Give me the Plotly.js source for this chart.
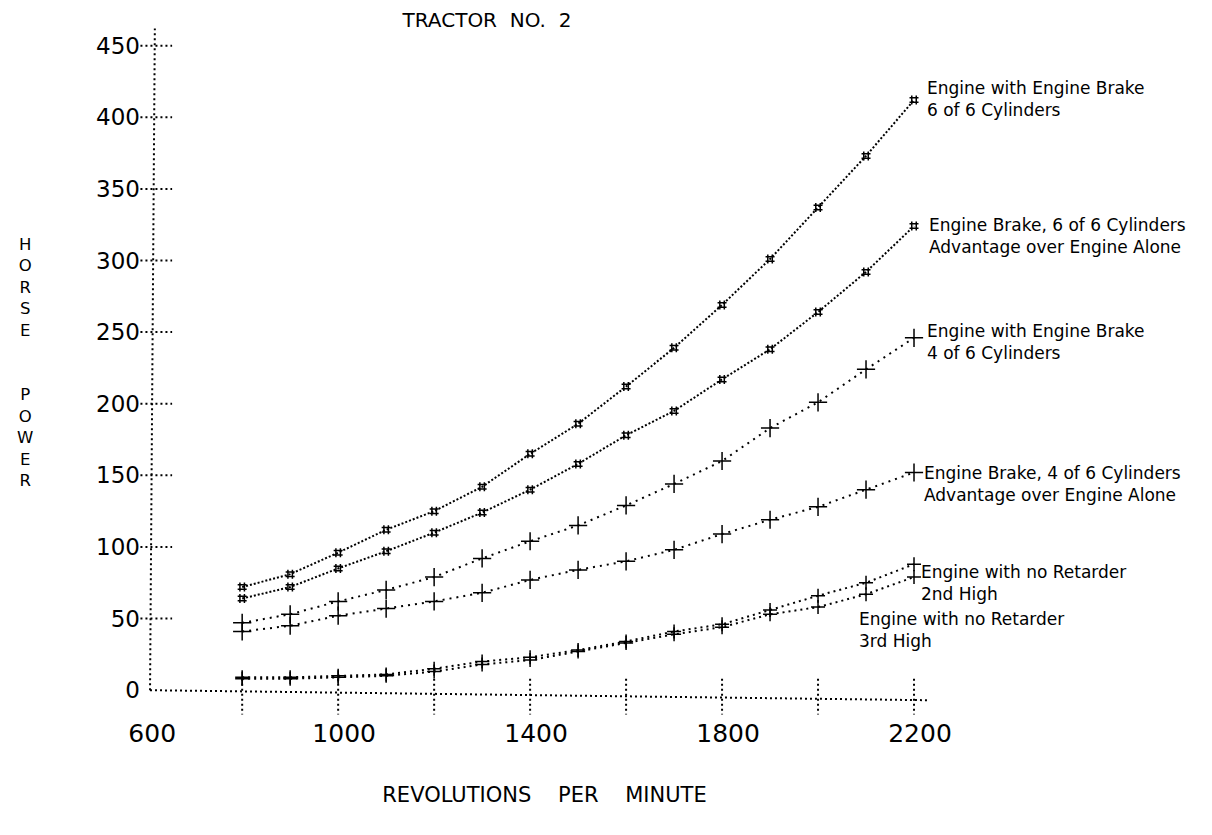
<!DOCTYPE html>
<html>
<head>
<meta charset="utf-8">
<script src="https://cdn.plot.ly/plotly-3.0.1.min.js"></script>
<style>html,body{margin:0;padding:0;background:#fff;}#chart{width:1212px;height:835px;}</style>
</head>
<body>
<div id="chart"></div>
<script>
// ---- data ----
const rpm = [800, 900, 1000, 1100, 1200, 1300, 1400, 1500, 1600, 1700, 1800, 1900, 2000, 2100, 2200];
const brake6of6 = [72, 81, 96, 112, 125, 142, 165, 186, 212, 239, 269, 301, 337, 373, 412];
const advantage6of6 = [64, 72, 85, 97, 110, 124, 140, 158, 178, 195, 217, 238, 264, 292, 324];
const brake4of6 = [47, 53, 62, 70, 79, 92, 104, 115, 129, 144, 160, 183, 201, 224, 246];
const advantage4of6 = [41, 45, 52, 57, 62, 68, 77, 84, 90, 98, 109, 119, 128, 140, 152];
const noRetarder2nd = [9, 9, 10, 11, 15, 20, 23, 28, 34, 41, 46, 56, 66, 75, 88];
const noRetarder3rd = [8, 8, 9, 10, 13, 18, 21, 27, 33, 39, 44, 53, 58, 67, 79];

const xTickLabels = ['600', '1000', '1400', '1800', '2200'];
const xTickValues = [600, 1000, 1400, 1800, 2200];
const xTickMarks = [800, 1000, 1200, 1400, 1600, 1800, 2000, 2200];
const yTickValues = [0, 50, 100, 150, 200, 250, 300, 350, 400, 450];

const seriesLabels = [
  'Engine with Engine Brake<br>6 of 6 Cylinders',
  'Engine Brake, 6 of 6 Cylinders<br>Advantage over Engine Alone',
  'Engine with Engine Brake<br>4 of 6 Cylinders',
  'Engine Brake, 4 of 6 Cylinders<br>Advantage over Engine Alone',
  'Engine with no Retarder<br>2nd High',
  'Engine with no Retarder<br>3rd High'
];
const titleText = 'TRACTOR\u00A0 NO.\u00A0 2';
const xTitleText = 'REVOLUTIONS\u00A0\u00A0\u00A0 PER\u00A0\u00A0\u00A0 MINUTE';
const yTitleText = 'H<br>O<br>R<br>S<br>E<br> <br> <br>P<br>O<br>W<br>E<br>R';

// ---- styling / layout ----
const FONT = 'DejaVu Sans, Liberation Sans, sans-serif';
const W = 1212, H = 835;
const M = {l: 127, r: 250, t: 17, b: 109};
const plotW = W - M.l - M.r, plotH = H - M.t - M.b;
const pxToPaperX = px => (px - M.l) / plotW;
const pxToPaperY = py => 1 - (py - M.t) / plotH;

function series(y, name, symbol, size, dash) {
  return {
    x: rpm, y: y, name: name, type: 'scatter', mode: 'lines+markers',
    line: {color: '#000', width: 2, dash: dash},
    marker: {symbol: symbol, size: size, color: '#000', line: {color: '#000', width: 1.5}},
    cliponaxis: false, hoverinfo: 'x+y'
  };
}

const traces = [
  series(brake6of6, 'Engine with Engine Brake 6 of 6', 'hash-open', 9, '2px,2px'),
  series(advantage6of6, 'Advantage 6 of 6', 'hash-open', 9, '2px,2px'),
  series(brake4of6, 'Engine with Engine Brake 4 of 6', 'cross-thin-open', 13, '2px,5px'),
  series(advantage4of6, 'Advantage 4 of 6', 'cross-thin-open', 13, '2px,5px'),
  series(noRetarder2nd, 'No Retarder 2nd High', 'cross-thin-open', 10, '2px,4px'),
  series(noRetarder3rd, 'No Retarder 3rd High', 'cross-thin-open', 10, '2px,4px')
];

const dotLine = {color: '#000', width: 2, dash: '2px,3px'};
const shapes = [];
// y axis line and x axis line (dotted as in the original)
shapes.push({type: 'line', xref: 'x', yref: 'y', x0: 608, y0: 0, x1: 618, y1: 462, line: dotLine});
shapes.push({type: 'line', xref: 'x', yref: 'y', x0: 608, y0: 0, x1: 2230, y1: -7, line: dotLine});
yTickValues.filter(v => v > 0).forEach(v => {
  shapes.push({type: 'line', xref: 'x', yref: 'y', x0: 588, y0: v, x1: 654, y1: v, line: dotLine});
});
xTickMarks.forEach(v => {
  shapes.push({type: 'line', xref: 'x', yref: 'y', x0: v, y0: 8, x1: v, y1: -17, line: dotLine});
});

// series label positions (anchor rpm, hp) beside curve ends
const labelX = [2223, 2227, 2223, 2216, 2210, 2081];
const labelY = [413, 317, 243, 144, 75, 42];
const annotations = seriesLabels.map((t, i) => ({
  text: t, xref: 'x', yref: 'y', x: labelX[i], y: labelY[i],
  xanchor: 'left', yanchor: 'middle', align: 'left', showarrow: false,
  font: {family: FONT, size: 17, color: '#000'}
}));
annotations.push({
  text: yTitleText, xref: 'paper', yref: 'paper', x: pxToPaperX(25), y: pxToPaperY(362),
  xanchor: 'center', yanchor: 'middle', align: 'center', showarrow: false,
  font: {family: FONT, size: 16.5, color: '#000'}
});

const layout = {
  width: W, height: H, margin: M,
  paper_bgcolor: '#fff', plot_bgcolor: '#fff', showlegend: false,
  title: {
    text: titleText, xref: 'container', yref: 'container',
    x: 487 / W, xanchor: 'center', y: 1 - 20 / H, yanchor: 'middle',
    font: {family: FONT, size: 20, color: '#000'}
  },
  xaxis: {
    range: [560, 2300], tickmode: 'array', tickvals: xTickValues, ticktext: xTickLabels,
    ticks: '', showgrid: false, zeroline: false, showline: false,
    tickfont: {family: FONT, size: 25, color: '#000'},
    ticklabelshift: 6, ticklabelstandoff: -10,
    title: {text: xTitleText, font: {family: FONT, size: 21, color: '#000'}, standoff: 40}
  },
  yaxis: {
    range: [-25, 470], tickmode: 'array', tickvals: yTickValues,
    ticks: '', showgrid: false, zeroline: false, showline: false,
    tickfont: {family: FONT, size: 23, color: '#000'},
    ticklabelstandoff: -14
  },
  shapes: shapes,
  annotations: annotations
};

Plotly.newPlot('chart', traces, layout, {displayModeBar: false, staticPlot: true});
</script>
</body>
</html>
